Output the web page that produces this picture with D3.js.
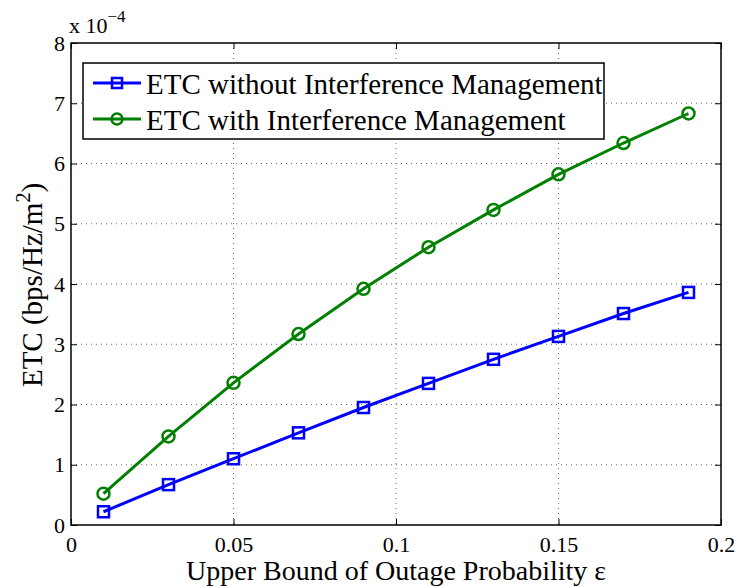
<!DOCTYPE html>
<html><head><meta charset="utf-8">
<script src="https://cdn.jsdelivr.net/npm/d3@7"></script>
<style>body{margin:0;background:#fff}text{font-family:"Liberation Serif","Times New Roman",serif}</style>
</head><body>
<svg id="c" width="736" height="586"></svg>
<script>
const xValues = [0.01,0.03,0.05,0.07,0.09,0.11,0.13,0.15,0.17,0.19];
const withoutIM = [0.22,0.67,1.10,1.53,1.95,2.35,2.75,3.13,3.51,3.86];
const withIM = [0.52,1.47,2.36,3.17,3.92,4.61,5.23,5.82,6.34,6.83];
const xTicks = [0,0.05,0.1,0.15,0.2];
const xTickLabels = ["0","0.05","0.1","0.15","0.2"];
const yTicks = [0,1,2,3,4,5,6,7,8];
const seriesNames = ["ETC without Interference Management","ETC with Interference Management"];

(function(){
const svg = d3.select("#c");
const L=71,R=721,T=43,B=525;
const x = d3.scaleLinear().domain([0,0.2]).range([L,R]);
const y = d3.scaleLinear().domain([0,8]).range([B,T]);

// grid
const g = svg.append("g");
g.selectAll(".gx").data(xTicks.slice(1,-1)).enter().append("line")
 .attr("x1",d=>x(d)).attr("x2",d=>x(d)).attr("y1",T).attr("y2",B)
 .attr("stroke","#444").attr("stroke-width",0.8).attr("stroke-dasharray","1,4");
g.selectAll(".gy").data(yTicks.slice(1,-1)).enter().append("line")
 .attr("y1",d=>y(d)).attr("y2",d=>y(d)).attr("x1",L).attr("x2",R)
 .attr("stroke","#444").attr("stroke-width",0.8).attr("stroke-dasharray","1,4");

// axes with inner ticks
const ax = svg.append("g");
ax.append("g").attr("transform",`translate(0,${B})`)
 .call(d3.axisBottom(x).tickValues(xTicks).tickFormat((d,i)=>xTickLabels[i]).tickSize(-6).tickPadding(11));
ax.append("g").attr("transform",`translate(${L},0)`)
 .call(d3.axisLeft(y).tickValues(yTicks).tickFormat(d3.format("d")).tickSize(-6).tickPadding(6));
ax.append("g").attr("transform",`translate(0,${T})`)
 .call(d3.axisTop(x).tickValues(xTicks).tickFormat("").tickSize(-6));
ax.append("g").attr("transform",`translate(${R},0)`)
 .call(d3.axisRight(y).tickValues(yTicks).tickFormat("").tickSize(-6));
ax.selectAll(".domain").remove();
ax.selectAll("g").attr("font-family",null).attr("font-size",null);
ax.selectAll(".tick line").attr("stroke","#000").attr("stroke-width",1);
ax.selectAll(".tick text").attr("font-size",22).attr("fill","#000")
 .style("font-family",'"Liberation Serif",serif');
svg.append("rect").attr("x",L).attr("y",T).attr("width",R-L).attr("height",B-T)
 .attr("fill","none").attr("stroke","#000").attr("stroke-width",1.5);

// exponent
const ex = svg.append("text").attr("x",69).attr("y",33).attr("font-size",22);
ex.append("tspan").text("x 10");
ex.append("tspan").attr("dy",-11).attr("font-size",17).text("\u22124");

// lines
const line = d3.line().x((d,i)=>x(xValues[i])).y(d=>y(d));
svg.append("path").datum(withoutIM).attr("d",line).attr("fill","none")
 .attr("stroke","#0000ff").attr("stroke-width",3);
svg.append("path").datum(withIM).attr("d",line).attr("fill","none")
 .attr("stroke","#008000").attr("stroke-width",3);
svg.selectAll(".sq").data(withoutIM).enter().append("rect")
 .attr("x",(d,i)=>x(xValues[i])-5.5).attr("y",d=>y(d)-5.5).attr("width",11).attr("height",11)
 .attr("fill","none").attr("stroke","#0000ff").attr("stroke-width",2.5);
svg.selectAll(".ci").data(withIM).enter().append("circle")
 .attr("cx",(d,i)=>x(xValues[i])).attr("cy",d=>y(d)).attr("r",6)
 .attr("fill","none").attr("stroke","#008000").attr("stroke-width",2.5);

// legend
const lg = svg.append("g");
lg.append("rect").attr("x",83).attr("y",63).attr("width",521).attr("height",76)
 .attr("fill","#fff").attr("stroke","#000").attr("stroke-width",1.5);
const rows=[{c:"#0000ff",m:"sq",yy:83},{c:"#008000",m:"ci",yy:119}];
rows.forEach((r,i)=>{
  lg.append("line").attr("x1",93).attr("x2",141).attr("y1",r.yy).attr("y2",r.yy)
   .attr("stroke",r.c).attr("stroke-width",3);
  if(r.m==="sq") lg.append("rect").attr("x",112).attr("y",r.yy-5).attr("width",10).attr("height",10)
   .attr("fill","none").attr("stroke",r.c).attr("stroke-width",2.5);
  else lg.append("circle").attr("cx",117).attr("cy",r.yy).attr("r",5.5)
   .attr("fill","none").attr("stroke",r.c).attr("stroke-width",2.5);
  lg.append("text").attr("x",146).attr("y",r.yy+11).attr("font-size",29).text(seriesNames[i]);
});

// axis labels
svg.append("text").attr("x",(L+R)/2).attr("y",580).attr("text-anchor","middle")
 .attr("font-size",28).text("Upper Bound of Outage Probability \u03b5");
const yl = svg.append("text").attr("transform","translate(42,285) rotate(-90)")
 .attr("text-anchor","middle").attr("font-size",29);
yl.append("tspan").text("ETC (bps/Hz/m");
yl.append("tspan").attr("dy",-12).attr("font-size",20).text("2");
yl.append("tspan").attr("dy",12).text(")");
})();
</script>
</body></html>
